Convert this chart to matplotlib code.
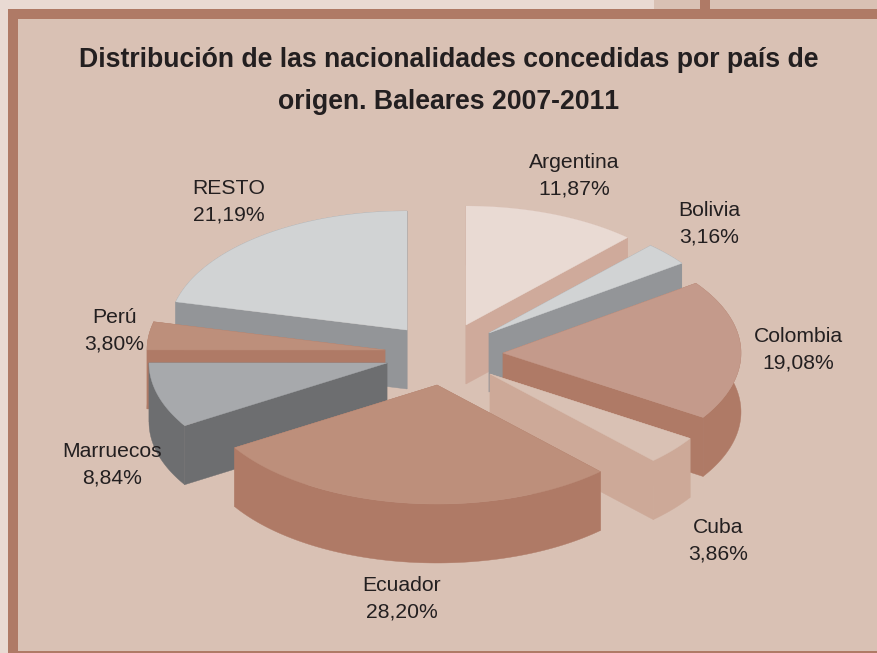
import numpy as np
import matplotlib
matplotlib.use('Agg')
import matplotlib.pyplot as plt
from matplotlib.patches import Polygon, Rectangle

plt.rcParams['font.family'] = ['Liberation Sans', 'DejaVu Sans']
plt.rcParams['text.kerning_factor'] = 6

# Data
paises = ['Argentina', 'Bolivia', 'Colombia', 'Cuba', 'Ecuador', 'Marruecos', 'Perú', 'RESTO']
valores = [11.87, 3.16, 19.08, 3.86, 28.20, 8.84, 3.80, 21.19]
titulo = 'Distribución de las nacionalidades concedidas por país de\norigen. Baleares 2007-2011'

# Colours and layout
color_top = ['#E9DAD3', '#D1D3D4', '#C49A8B', '#D9C1B4', '#BD8F7B', '#A7A9AC', '#BD8F7B', '#D1D3D4']
color_side = ['#CFAA9B', '#939598', '#AF7A66', '#CDA998', '#AF7A66', '#6D6E70', '#AF7A66', '#939598']
apex = [(466, 325), (489, 333), (503, 353), (490, 374), (437, 385), (387, 363), (385, 350), (407, 330)]
label_pos = [(574, 176), (709, 224), (798, 350), (718, 541), (402, 599), (112, 465), (114, 331), (229, 202)]
orden = [7, 0, 1, 2, 3, 6, 5, 4]  # back to front
RX, RY, DEPTH = 238, 119, 59

fondo = '#D9C1B4'
marco = '#AF7A66'
claro = '#E9DAD3'

fig = plt.figure(figsize=(8.77, 6.53), dpi=100, facecolor=claro)
ax = fig.add_axes([0, 0, 1, 1])
ax.set_xlim(0, 877)
ax.set_ylim(653, 0)
ax.axis('off')

# Frame of the page
ax.add_patch(Rectangle((8, 9), 869, 644, fc=marco, lw=0))
ax.add_patch(Rectangle((18, 19), 859, 632, fc=fondo, lw=0))
ax.add_patch(Rectangle((654, 0), 223, 9, fc=fondo, lw=0))
ax.add_patch(Rectangle((700, 0), 10, 9, fc=marco, lw=0))

# Pie angles, clockwise from the top
fin = np.cumsum(valores) / sum(valores) * 2 * np.pi
ini = np.concatenate([[0], fin[:-1]])


def punto(i, ang):
    return apex[i][0] + RX * np.sin(ang), apex[i][1] - RY * np.cos(ang)


def cara(pts, color, z):
    ax.add_patch(Polygon(pts, closed=True, fc=color, ec=color, lw=0.3, zorder=z))


z = 2
for i in orden:
    ang = np.linspace(ini[i], fin[i], 80)
    x, y = punto(i, ang)
    cx, cy = apex[i]
    # cut faces
    for a in (ini[i], fin[i]):
        px, py = punto(i, a)
        cara([(cx, cy), (px, py), (px, py + DEPTH), (cx, cy + DEPTH)], color_side[i], z)
    # outer wall
    pared = np.column_stack([np.concatenate([x, x[::-1]]),
                             np.concatenate([y, y[::-1] + DEPTH])])
    cara(pared, color_side[i], z)
    # top
    cara(np.column_stack([np.r_[cx, x], np.r_[cy, y]]), color_top[i], z + 0.5)
    z += 1

# Labels
for nombre, v, (lx, ly) in zip(paises, valores, label_pos):
    pct = f'{v:.2f}%'.replace('.', ',')
    ax.text(lx, ly, nombre + '\n' + pct, ha='center', va='center', fontsize=15.2,
            color='#231F20', linespacing=1.48, zorder=20)

ax.text(449, 81, titulo, ha='center', va='center', fontsize=19.15, fontweight='bold',
        color='#231F20', linespacing=1.79, zorder=20)

fig.savefig('out.png', dpi=100, facecolor=claro)
